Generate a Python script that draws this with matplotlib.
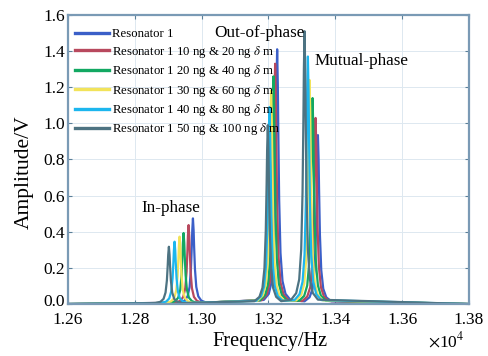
import matplotlib
matplotlib.use("Agg")
import matplotlib.pyplot as plt
import matplotlib.transforms as mtransforms
import numpy as np

plt.rcParams['font.family'] = ['Liberation Serif', 'DejaVu Serif']
plt.rcParams['mathtext.fontset'] = 'stix'

###================ Data ======================================###

labels = [
    "Resonator 1",
    r"Resonator 1 10 ng & 20 ng $\delta$ m",
    r"Resonator 1 20 ng & 40 ng $\delta$ m",
    r"Resonator 1 30 ng & 60 ng $\delta$ m",
    r"Resonator 1 40 ng & 80 ng $\delta$ m",
    r"Resonator 1 50 ng & 100 ng $\delta$ m",
]
colors = ['#3b5fc8', '#b8495e', '#12a862', '#f2e35a', '#1cb6ee', '#4d7382']

# peak frequency (Hz) and amplitude (V) for each mode, one entry per series
in_freq = [12974, 12961, 12946, 12934, 12919, 12902]
in_amp = [0.474, 0.437, 0.393, 0.373, 0.345, 0.317]
out_freq = [13226, 13220, 13215, 13208, 13203, 13198]
out_amp = [1.41, 1.33, 1.26, 1.18, 1.09, 0.99]
mut_freq = [13348, 13341, 13332, 13323, 13318, 13308]
mut_amp = [0.935, 1.03, 1.14, 1.24, 1.37, 1.51]

# resonance peak shape: offset from centre (Hz) and relative height
peak_offset = [-40, -25, -16, -10, -6, -3.5, -2, 0, 2, 3.5, 6, 10, 16, 25, 40]
peak_rel = [0.016, 0.04, 0.09, 0.2, 0.41, 0.67, 0.86, 1.0,
            0.86, 0.67, 0.41, 0.2, 0.09, 0.04, 0.016]

f_start, f_end = 12600, 13800
x_ticks = [12600, 12800, 13000, 13200, 13400, 13600, 13800]
y_ticks = [0.0, 0.2, 0.4, 0.6, 0.8, 1.0, 1.2, 1.4, 1.6]

###================ Plot =================###

fig = plt.figure(figsize=(4.89, 3.56), dpi=100)
ax = fig.add_axes([0.139, 0.146, 0.82, 0.812])

offs = np.array(peak_offset)
rel = np.array(peak_rel)
for i in range(len(labels)):
    f = [f_start]
    a = [0.0]
    for fc, ac in ((in_freq[i], in_amp[i]), (out_freq[i], out_amp[i]),
                   (mut_freq[i], mut_amp[i])):
        f.extend(fc + offs)
        a.extend(ac * rel)
    f.append(f_end)
    a.append(0.0)
    ax.plot(f, a, color=colors[i], lw=1.6, label=labels[i])

ax.set_xlim(f_start, f_end)
ax.set_ylim(0, 1.6)
ax.set_xticks(x_ticks)
ax.set_yticks(y_ticks)
ax.set_yticklabels([f"{v:.1f}" for v in y_ticks])
ax.set_xticklabels([f"{v / 1e4:.2f}" for v in x_ticks])
ax.tick_params(direction='in', top=True, right=True, length=3,
               labelsize=12.5, color='#5a7f98', pad=2)
ax.tick_params(axis='x', pad=6)
# nudge the "0.0" label up a little so it doesn't collide with "1.26"
zero_lbl = ax.get_yticklabels()[0]
zero_lbl.set_transform(zero_lbl.get_transform()
                       + mtransforms.ScaledTranslation(0, 3 / 72, fig.dpi_scale_trans))
ax.grid(True, color='#dde8f0', lw=0.7)
ax.set_axisbelow(True)
for s in ax.spines.values():
    s.set_color('#7a9ab5')
    s.set_linewidth(1.6)

ax.set_xlabel("Frequency/Hz", fontsize=14.7)
ax.xaxis.set_label_coords(0.504, -0.097)
ax.set_ylabel("Amplitude/V", fontsize=15.5)
ax.yaxis.set_label_coords(-0.085, 0.457)
fig.text(0.912, 0.042, r"$\times$10$^{4}$", fontsize=12.5, ha='center', va='center')

ax.text(12907, 0.53, "In-phase", fontsize=12.3, ha='center', va='center')
ax.text(13173, 1.50, "Out-of-phase", fontsize=12.3, ha='center', va='center')
ax.text(13478, 1.345, "Mutual-phase", fontsize=12.3, ha='center', va='center')

ax.legend(loc='upper left', bbox_to_anchor=(-0.005, 0.985), frameon=False,
          fontsize=9.2, handlelength=2.7, handletextpad=0.2, labelspacing=0.27,
          borderaxespad=0.3)
for line in ax.get_legend().get_lines():
    line.set_linewidth(2.4)

fig.savefig("out.png", dpi=100)
